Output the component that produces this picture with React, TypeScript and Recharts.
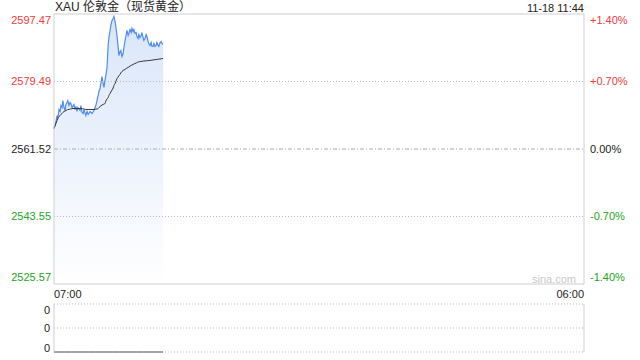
import React from 'react'
import { ComposedChart, Area, Line, XAxis, YAxis, ReferenceLine, CartesianGrid } from 'recharts'

// minutes since 07:00
const minutes = [
  0, 4, 8, 10, 13, 16, 18, 21, 23, 26,
  29, 31, 34, 36, 39, 42, 44, 47, 52, 55,
  57, 60, 62, 68, 70, 73, 76, 78, 83, 86,
  89, 94, 99, 104, 107, 109, 112, 115, 117, 120,
  122, 125, 128, 130, 133, 135, 138, 141, 143, 146,
  148, 151, 154, 156, 159, 161, 164, 167, 169, 172,
  174, 177, 180, 182, 185, 188, 190, 193, 195, 198,
  201, 203, 206, 208, 211, 214, 216, 219, 221, 224,
  227, 229, 232, 234, 237, 240, 242, 245, 247, 250,
  253, 255, 258, 260, 263, 266, 268, 271, 273, 276,
  279, 281, 284,
]

const prices = [
  2566.98, 2568.31, 2570.44, 2569.64, 2572.04, 2571.51, 2573.10, 2572.57, 2574.44, 2572.57,
  2571.77, 2573.37, 2573.90, 2574.44, 2573.10, 2573.90, 2573.64, 2572.57, 2573.37, 2572.04,
  2572.84, 2571.51, 2572.57, 2571.77, 2573.10, 2571.24, 2570.97, 2572.04, 2570.44, 2571.51,
  2570.71, 2571.51, 2570.97, 2571.77, 2572.57, 2573.10, 2574.44, 2575.77, 2576.83, 2577.63,
  2578.96, 2580.83, 2578.96, 2577.90, 2580.03, 2581.09, 2583.22, 2589.08, 2591.21, 2593.08,
  2594.41, 2595.74, 2596.27, 2596.80, 2595.47, 2594.14, 2591.74, 2588.82, 2586.42, 2587.48,
  2587.75, 2586.15, 2586.95, 2588.55, 2590.41, 2592.01, 2593.08, 2591.74, 2592.28, 2593.34,
  2592.54, 2593.61, 2592.81, 2593.34, 2592.28, 2592.54, 2591.48, 2590.95, 2592.01, 2591.21,
  2591.74, 2592.54, 2591.21, 2590.41, 2590.95, 2592.01, 2591.48, 2590.15, 2589.61, 2589.08,
  2589.88, 2588.82, 2588.82, 2589.61, 2588.82, 2589.08, 2589.88, 2589.08, 2588.82, 2589.88,
  2590.15, 2589.61, 2589.35,
]

const avgPrices = [
  2566.98, 2568.04, 2569.11, 2569.64, 2570.17, 2570.44, 2570.71, 2570.97, 2571.24, 2571.51,
  2571.64, 2571.77, 2571.91, 2572.04, 2572.04, 2572.17, 2572.17, 2572.30, 2572.30, 2572.30,
  2572.30, 2572.30, 2572.30, 2572.30, 2572.30, 2572.30, 2572.17, 2572.17, 2572.04, 2572.04,
  2572.04, 2572.04, 2572.04, 2572.04, 2572.04, 2572.17, 2572.17, 2572.30, 2572.57, 2572.84,
  2572.97, 2573.24, 2573.37, 2573.50, 2573.64, 2574.30, 2574.83, 2575.23, 2575.77, 2576.30,
  2576.70, 2577.23, 2577.76, 2578.43, 2578.96, 2579.49, 2580.29, 2580.69, 2581.09, 2581.36,
  2581.76, 2582.16, 2582.42, 2582.56, 2582.69, 2582.96, 2583.09, 2583.22, 2583.36, 2583.62,
  2583.76, 2583.89, 2584.02, 2584.15, 2584.29, 2584.42, 2584.55, 2584.69, 2584.69, 2584.82,
  2584.82, 2584.87, 2584.93, 2584.95, 2584.98, 2585.01, 2585.03, 2585.06, 2585.09, 2585.09,
  2585.14, 2585.19, 2585.22, 2585.27, 2585.30, 2585.35, 2585.38, 2585.41, 2585.46, 2585.49,
  2585.54, 2585.57, 2585.62,
]

const prevClose = 2561.52
const priceTicks = [2525.57, 2543.55, 2561.52, 2579.49, 2597.47]
const pctTicks = [-1.4, -0.7, 0, 0.7, 1.4]
const pctLabels = ['-1.40%', '-0.70%', '0.00%', '+0.70%', '+1.40%']
const timeTicks = [0, 1380]
const timeLabels = ['07:00', '06:00']
const volMinutes = [0, 284]
const volValues = [0, 0]
const volTicks = [0, 0.5, 1]
const volLabels = ['0', '0', '0']

const data = minutes.map((m, i) => ({
  m,
  price: prices[i],
  avg: avgPrices[i],
  pct: (prices[i] / prevClose - 1) * 100,
}))
const volData = volMinutes.map((m, i) => ({ m, vol: volValues[i] }))

const FONT = "'Liberation Sans', Arial, sans-serif"
const UP = '#f23a3a'
const DOWN = '#22a622'
const FLAT = '#222'
const BORDER = '#cfcfcf'

const tone = (i: number) => (i > 2 ? UP : i < 2 ? DOWN : FLAT)
const edgeShift = (i: number, n: number) => (i === n - 1 ? 6 : i === 0 ? -7 : 0)

const PriceTick = (props: any) => {
  const { x, y, index } = props
  return (
    <text x={x} y={y + edgeShift(index, priceTicks.length)} dy="0.35em" textAnchor="end"
      fill={tone(index)} fontSize={11} fontFamily={FONT}>
      {priceTicks[index].toFixed(2)}
    </text>
  )
}

const PctTick = (props: any) => {
  const { x, y, index } = props
  return (
    <text x={x} y={y + edgeShift(index, pctTicks.length)} dy="0.35em" textAnchor="start"
      fill={tone(index)} fontSize={11} fontFamily={FONT}>
      {pctLabels[index]}
    </text>
  )
}

const TimeTick = (props: any) => {
  const { x, y, index } = props
  return (
    <text x={x} y={y} dy="0.35em" textAnchor={index === 0 ? 'start' : 'end'}
      fill="#222" fontSize={11} fontFamily={FONT}>
      {timeLabels[index]}
    </text>
  )
}

const VolTick = (props: any) => {
  const { x, y, index } = props
  const shift = index === 2 ? 6 : index === 0 ? -4 : 0
  return (
    <text x={x} y={y + shift} dy="0.35em" textAnchor="end" fill="#222" fontSize={11} fontFamily={FONT}>
      {volLabels[index]}
    </text>
  )
}

export default function App() {
  return (
    <div style={{ position: 'absolute', left: 0, top: 0, width: 640, height: 360, background: '#fff', fontFamily: FONT }}>
      <div style={{ position: 'absolute', left: 55, top: 0, fontSize: 12, lineHeight: '15px', color: '#222', fontFamily: "'Liberation Sans', 'Noto Sans CJK SC', sans-serif" }}>
        XAU 伦敦金（现货黄金）
      </div>
      <div style={{ position: 'absolute', right: 56, top: 1, fontSize: 11, lineHeight: '14px', color: '#222' }}>
        11-18 11:44
      </div>
      <div style={{ position: 'absolute', left: 532, top: 272, fontSize: 11, lineHeight: '14px', color: '#c8c8c8' }}>
        sina.com
      </div>

      <div style={{ position: 'absolute', left: 0, top: 0 }}>
        <ComposedChart width={640} height={300} data={data} margin={{ top: 14, right: 0, bottom: 0, left: 0 }}>
          <defs>
            <linearGradient id="priceFill" x1="0" y1="0" x2="0" y2="1">
              <stop offset="0%" stopColor="#4f88e6" stopOpacity={0.36} />
              <stop offset="100%" stopColor="#4f88e6" stopOpacity={0} />
            </linearGradient>
          </defs>
          <XAxis dataKey="m" type="number" domain={[0, 1380]} ticks={timeTicks} tick={<TimeTick />}
            tickLine={false} tickSize={0} tickMargin={10} height={16}
            axisLine={{ stroke: BORDER }} interval={0} />
          <YAxis yAxisId="p" domain={[priceTicks[0], priceTicks[4]]} ticks={priceTicks} tick={<PriceTick />}
            width={54} tickLine={false} tickSize={3} tickMargin={0} axisLine={{ stroke: BORDER }} interval={0} />
          <YAxis yAxisId="pct" orientation="right" domain={[-1.4, 1.4]} ticks={pctTicks} tick={<PctTick />}
            allowDataOverflow width={56} tickLine={false} tickSize={6} tickMargin={0}
            axisLine={{ stroke: BORDER }} interval={0} />
          <ReferenceLine yAxisId="p" y={priceTicks[4]} stroke={BORDER} />
          <ReferenceLine yAxisId="p" y={priceTicks[3]} stroke="#bbb" strokeDasharray="1 2" />
          <ReferenceLine yAxisId="p" y={priceTicks[1]} stroke="#bbb" strokeDasharray="1 2" />
          <ReferenceLine yAxisId="p" y={prevClose} stroke="#aaa" strokeDasharray="4 2 1 2" />
          <Area yAxisId="p" type="linear" dataKey="price" stroke="#4d8cf2" strokeWidth={1.2}
            fill="url(#priceFill)" dot={false} isAnimationActive={false} />
          <Line yAxisId="p" type="monotone" dataKey="avg" stroke="#333" strokeWidth={1}
            dot={false} isAnimationActive={false} />
          <Line yAxisId="pct" type="linear" dataKey="pct" stroke="none" strokeWidth={0}
            dot={false} activeDot={false} isAnimationActive={false} />
        </ComposedChart>
      </div>

      <div style={{ position: 'absolute', left: 0, top: 298 }}>
        <ComposedChart width={640} height={60} data={volData} margin={{ top: 6, right: 0, bottom: 6, left: 0 }}>
          <CartesianGrid vertical={false} stroke="#bbb" strokeDasharray="1 2" />
          <XAxis dataKey="m" type="number" domain={[0, 1380]} hide />
          <YAxis domain={[0, 1]} ticks={volTicks} tick={<VolTick />} width={54}
            tickLine={false} tickSize={4} tickMargin={0} axisLine={{ stroke: BORDER }} interval={0} />
          <YAxis yAxisId="r" orientation="right" width={56} tick={false} tickLine={false}
            axisLine={{ stroke: BORDER }} />
          <Line type="linear" dataKey="vol" stroke="#555" strokeWidth={1} dot={false} isAnimationActive={false} />
        </ComposedChart>
      </div>
    </div>
  )
}
